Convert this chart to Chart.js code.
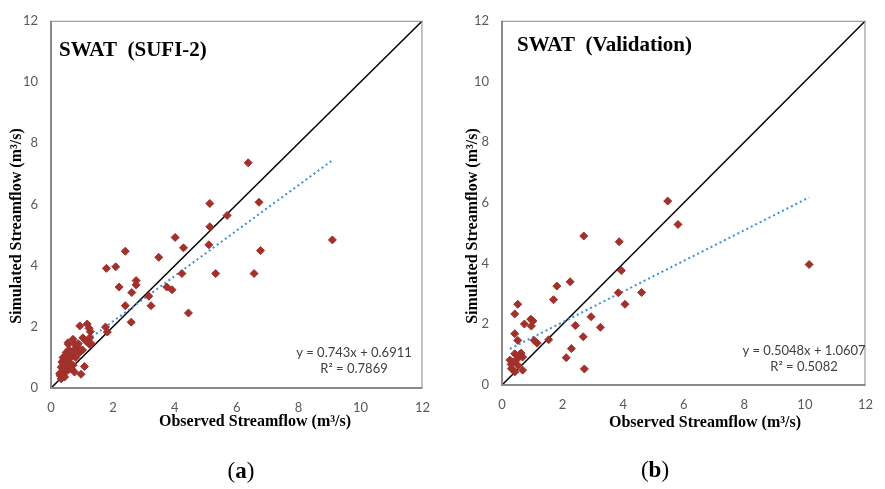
<!DOCTYPE html>
<html><head><meta charset="utf-8">
<script src="https://cdn.jsdelivr.net/npm/chart.js@4/dist/chart.umd.min.js"></script>
<style>
html,body{margin:0;padding:0;background:#fff;width:885px;height:489px;overflow:hidden}
canvas{position:absolute;top:0}
#c1{left:0}#c2{left:442px}
</style></head>
<body>
<canvas id="c1" width="442" height="489"></canvas>
<canvas id="c2" width="443" height="489"></canvas>
<script>
// ---------- data ----------
const tickValues = [0, 2, 4, 6, 8, 10, 12];

// (a) calibration, SUFI-2
const calObserved = [6.37,6.72,5.13,5.69,5.13,5.10,9.09,6.77,5.32,6.56,4.01,4.28,2.40,3.48,1.79,2.09,2.75,2.75,2.20,2.61,4.23,3.74,3.91,3.16,3.23,2.40,2.59,4.44,1.76,1.82,
  0.93,1.17,1.23,1.27,0.71,0.55,1.03,1.25,1.14,1.24,0.76,0.92,0.49,0.39,0.60,0.49,0.71,0.33,0.55,0.28,0.44,0.33,0.76,1.08,0.97,0.56,0.77,1.02,0.65,0.45,
  0.38,0.30,0.35,0.50,0.62,0.42,0.68,0.85,0.58,0.36,0.40,0.48,0.80,0.66,0.88,1.30];
const calSimulated = [7.36,6.07,6.03,5.64,5.27,4.68,4.84,4.49,3.74,3.74,4.92,4.58,4.47,4.27,3.91,3.96,3.51,3.37,3.30,3.12,3.74,3.30,3.21,3.00,2.69,2.69,2.15,2.45,1.99,1.83,
  2.03,2.09,1.95,1.84,1.59,1.48,1.64,1.64,1.52,1.43,1.27,1.16,1.16,1.00,0.95,0.79,0.74,0.68,0.58,0.47,0.36,0.30,0.52,0.70,0.45,1.43,1.43,1.24,1.05,0.90,
  0.55,0.40,0.85,0.65,0.80,0.72,1.15,1.35,1.25,0.50,0.42,1.05,1.00,0.62,1.45,1.45];

// (b) validation
const valObserved = [5.47,5.81,2.70,3.87,3.94,2.25,1.81,3.84,4.61,1.70,4.06,0.52,0.42,2.94,0.95,1.02,0.74,0.97,2.42,3.25,0.42,0.52,1.06,1.16,1.54,2.68,2.29,2.12,2.72,10.14,
  0.42,0.63,0.68,0.26,0.36,0.52,0.31,0.42,0.68,0.58,0.50,0.30];
const valSimulated = [6.06,5.29,4.91,4.72,3.77,3.40,3.26,3.04,3.05,2.81,2.66,2.66,2.34,2.25,2.17,2.11,2.01,1.94,1.96,1.90,1.69,1.47,1.47,1.38,1.49,1.59,1.20,0.90,0.53,3.97,
  1.03,1.05,0.92,0.82,0.76,0.65,0.54,0.43,0.49,1.01,0.85,0.68];

// 1:1 line and linear trend lines (end points)
const oneToOneX = [0, 12];
const oneToOneY = [0, 12];
const calTrendX = [0.28, 9.09];
const calTrendY = [0.90, 7.44];
const valTrendX = [0.26, 10.14];
const valTrendY = [1.19, 6.18];

// texts
const calTitle = 'SWAT  (SUFI-2)';
const valTitle = 'SWAT  (Validation)';
const calEquation = ['y = 0.743x + 0.6911', 'R\u00B2 = 0.7869'];
const valEquation = ['y = 0.5048x + 1.0607', 'R\u00B2 = 0.5082'];
const xTitle = 'Observed Streamflow (m\u00B3/s)';
const yTitle = 'Simulated Streamflow (m\u00B3/s)';
const calLabel = 'a';
const valLabel = 'b';

// ---------- drawing ----------
const pts = (xs, ys) => xs.map((x, i) => ({x: x, y: ys[i]}));

function makePanel(canvasId, cfg) {
  const canvas = document.getElementById(canvasId);
  const W = canvas.width, H = canvas.height;
  const A = cfg.area;
  const deco = {
    id: 'deco',
    afterDatasetsDraw(chart) {
      const ctx = chart.ctx, ca = chart.chartArea;
      ctx.save();
      ctx.strokeStyle = '#8a8a8a';
      ctx.lineWidth = 1;
      ctx.strokeRect(ca.left + 0.5, ca.top + 0.5, ca.right - ca.left - 1, ca.bottom - ca.top - 1);
      ctx.lineWidth = 2;
      ctx.beginPath();
      ctx.moveTo(ca.left, ca.top);
      ctx.lineTo(ca.left, ca.bottom);
      ctx.lineTo(ca.right, ca.bottom);
      ctx.stroke();
      ctx.restore();
    },
    afterDraw(chart) {
      const ctx = chart.ctx, ca = chart.chartArea;
      ctx.save();
      // inner title
      ctx.fillStyle = '#000';
      ctx.font = 'bold 21px "Liberation Serif", serif';
      ctx.textAlign = 'left';
      ctx.textBaseline = 'middle';
      ctx.fillText(cfg.title, ca.left + cfg.titleDx, ca.top + cfg.titleDy);
      // equation
      ctx.fillStyle = '#404040';
      ctx.font = '13px Lato, sans-serif';
      ctx.textAlign = 'center';
      ctx.fillText(cfg.eq[0], cfg.eqX, cfg.eqY);
      ctx.fillText(cfg.eq[1], cfg.eqX, cfg.eqY + 16);
      // axis titles
      ctx.fillStyle = '#000';
      ctx.font = 'bold 16px "Liberation Serif", serif';
      ctx.fillText(xTitle, cfg.xtX, cfg.xtY);
      ctx.save();
      ctx.translate(cfg.ytX, cfg.ytY);
      ctx.rotate(-Math.PI / 2);
      ctx.fillText(yTitle, 0, 0);
      ctx.restore();
      // panel label (x)
      const fN = '23px "Liberation Serif", serif';
      const fB = 'bold 23px "Liberation Serif", serif';
      ctx.font = fN; const wp = ctx.measureText('(').width, wq = ctx.measureText(')').width;
      ctx.font = fB; const wl = ctx.measureText(cfg.label).width;
      let x0 = cfg.lblX - (wp + wl + wq) / 2;
      ctx.textAlign = 'left';
      ctx.font = fN; ctx.fillText('(', x0, cfg.lblY);
      ctx.font = fB; ctx.fillText(cfg.label, x0 + wp, cfg.lblY);
      ctx.font = fN; ctx.fillText(')', x0 + wp + wl, cfg.lblY);
      ctx.restore();
    }
  };
  const tickFont = {family: 'Lato, sans-serif', size: 13};
  return new Chart(canvas, {
    type: 'scatter',
    data: {
      datasets: [
        {data: pts(cfg.obs, cfg.sim), pointStyle: 'rectRot', radius: 4, borderWidth: 1,
         backgroundColor: '#a2302b', borderColor: '#a2302b', showLine: false},
        {data: pts(cfg.trendX, cfg.trendY), showLine: true, pointRadius: 0, borderColor: '#3d8fd8',
         borderWidth: 2, borderDash: [2, 3], fill: false},
        {data: pts(oneToOneX, oneToOneY), showLine: true, pointRadius: 0, borderColor: '#000',
         borderWidth: 1.5, fill: false}
      ]
    },
    options: {
      responsive: false,
      animation: false,
      devicePixelRatio: 1,
      events: [],
      layout: {padding: {left: 0, top: A.top, right: W - A.right, bottom: 0}},
      plugins: {legend: {display: false}, tooltip: {enabled: false}},
      scales: {
        x: {
          type: 'linear', min: 0, max: 12,
          afterBuildTicks: s => { s.ticks = tickValues.map(v => ({value: v})); },
          afterFit: s => { s.height = H - A.bottom; },
          grid: {display: false, drawTicks: false},
          border: {display: false},
          ticks: {font: tickFont, color: '#595959', padding: 12, maxRotation: 0}
        },
        y: {
          type: 'linear', min: 0, max: 12,
          afterBuildTicks: s => { s.ticks = tickValues.map(v => ({value: v})); },
          afterFit: s => { s.width = A.left; },
          grid: {display: false, drawTicks: false},
          border: {display: false},
          ticks: {font: tickFont, color: '#595959', padding: 13}
        }
      }
    },
    plugins: [deco]
  });
}

makePanel('c1', {
  area: {left: 51, top: 13, right: 424, bottom: 388},
  obs: calObserved, sim: calSimulated, trendX: calTrendX, trendY: calTrendY,
  title: calTitle, titleDx: 8, titleDy: 30,
  eq: calEquation, eqX: 354, eqY: 353,
  xtX: 255, xtY: 422, ytX: 17, ytY: 226,
  label: calLabel, lblX: 241, lblY: 472
});
makePanel('c2', {
  area: {left: 60, top: 17, right: 435, bottom: 385},
  obs: valObserved, sim: valSimulated, trendX: valTrendX, trendY: valTrendY,
  title: valTitle, titleDx: 15, titleDy: 25,
  eq: valEquation, eqX: 362, eqY: 351,
  xtX: 263, xtY: 423, ytX: 31, ytY: 226,
  label: valLabel, lblX: 213, lblY: 471
});
</script>
</body></html>
